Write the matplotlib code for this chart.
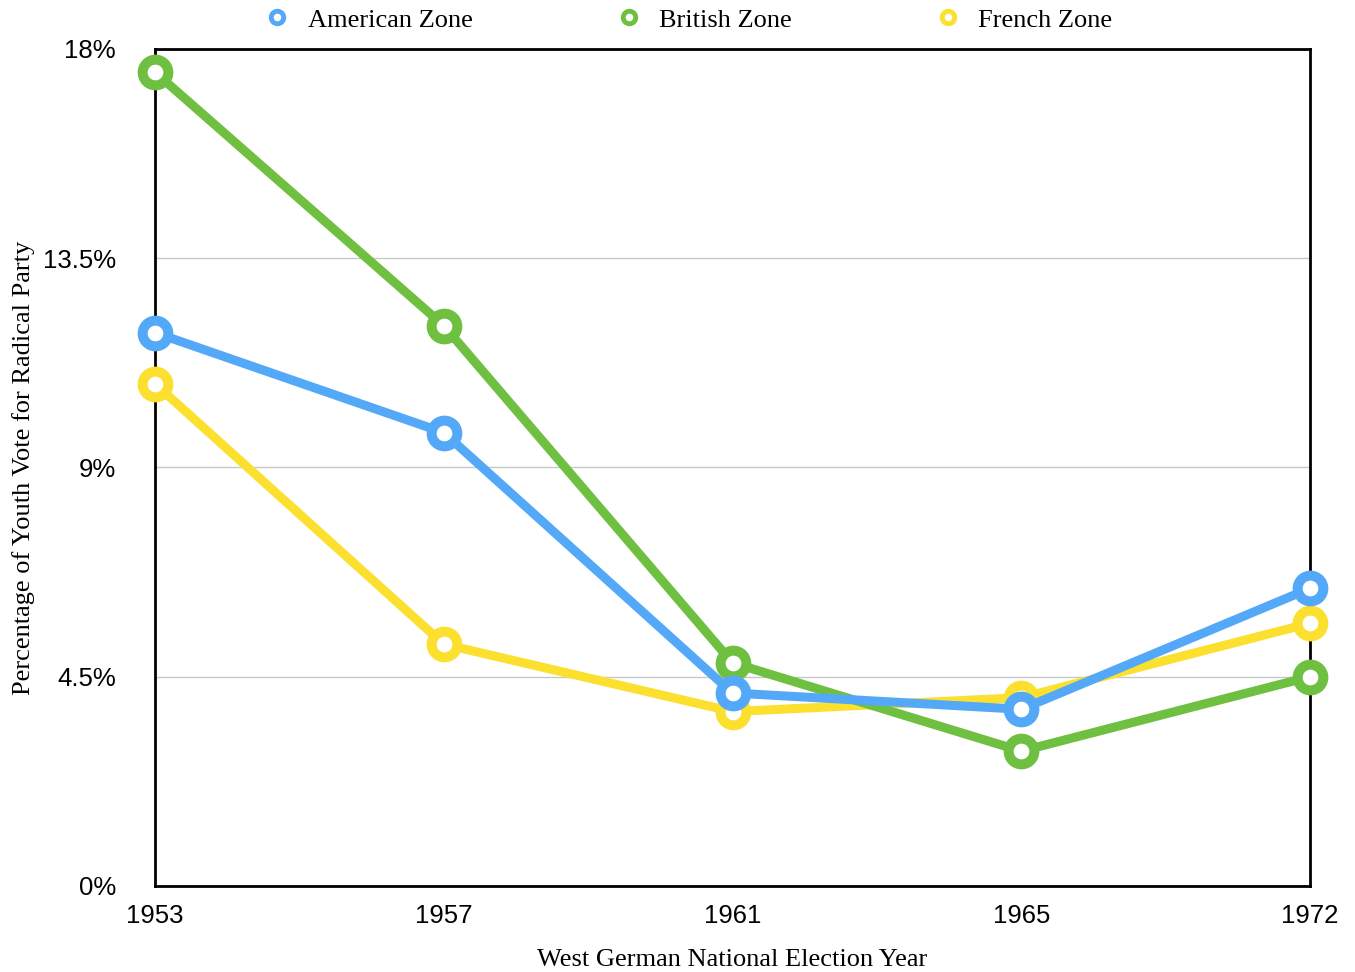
import matplotlib
matplotlib.use("Agg")
import matplotlib.pyplot as plt
from matplotlib.lines import Line2D

years = ["1953", "1957", "1961", "1965", "1972"]
american = [11.9, 9.75, 4.15, 3.8, 6.4]
british = [17.5, 12.05, 4.8, 2.9, 4.5]
french = [10.8, 5.2, 3.75, 4.05, 5.65]

y_ticks = [0, 4.5, 9, 13.5, 18]
y_tick_labels = ["0%", "4.5%", "9%", "13.5%", "18%"]

series = [
    ("American Zone", american, "#53a8f8", 4),
    ("British Zone", british, "#6fbf41", 3),
    ("French Zone", french, "#fce02f", 2),
]

SANS = "Liberation Sans"
SERIF = "Liberation Serif"

fig = plt.figure(figsize=(13.55, 9.72), dpi=100)
ax = fig.add_axes([0.1144, 0.0885, 0.8524, 0.8611])

x = list(range(len(years)))
for name, vals, color, z in series:
    ax.plot(
        x, vals, color=color, linewidth=6.5, marker="o", markersize=18.5,
        markerfacecolor="white", markeredgecolor=color, markeredgewidth=7.2,
        zorder=z, clip_on=False, solid_joinstyle="round",
    )

ax.set_xlim(0, len(years) - 1)
ax.set_ylim(0, 18)
ax.set_xticks(x)
ax.set_xticklabels(years, fontfamily=SANS, fontsize=18.5)
ax.set_yticks(y_ticks)
ax.set_yticklabels(y_tick_labels, fontfamily=SANS, fontsize=18.5)
ax.tick_params(axis="both", length=0)
ax.tick_params(axis="x", pad=13)
ax.tick_params(axis="y", pad=28)

ax.grid(axis="y", color="#c8c8c8", linewidth=1.0, zorder=0)
ax.set_axisbelow(True)
for s in ax.spines.values():
    s.set_linewidth(2.0)
    s.set_color("black")
    s.set_zorder(1)

ax.set_xlabel("West German National Election Year", fontfamily=SERIF,
              fontsize=19, labelpad=15)
ax.set_ylabel("Percentage of Youth Vote for Radical Party", fontfamily=SERIF,
              fontsize=19, labelpad=6)

handles = [
    Line2D([], [], linestyle="none", marker="o", markersize=9,
           markerfacecolor="white", markeredgecolor=c, markeredgewidth=3.5)
    for _, _, c, _ in series
]
fig.legend(
    handles, [n for n, _, _, _ in series], loc="upper center",
    bbox_to_anchor=(0.508, 1.016), ncol=3, frameon=False,
    prop={"family": SERIF, "size": 19}, columnspacing=5.42,
    handletextpad=0.65, handlelength=1.0,
)

fig.savefig("out.png", dpi=100)
